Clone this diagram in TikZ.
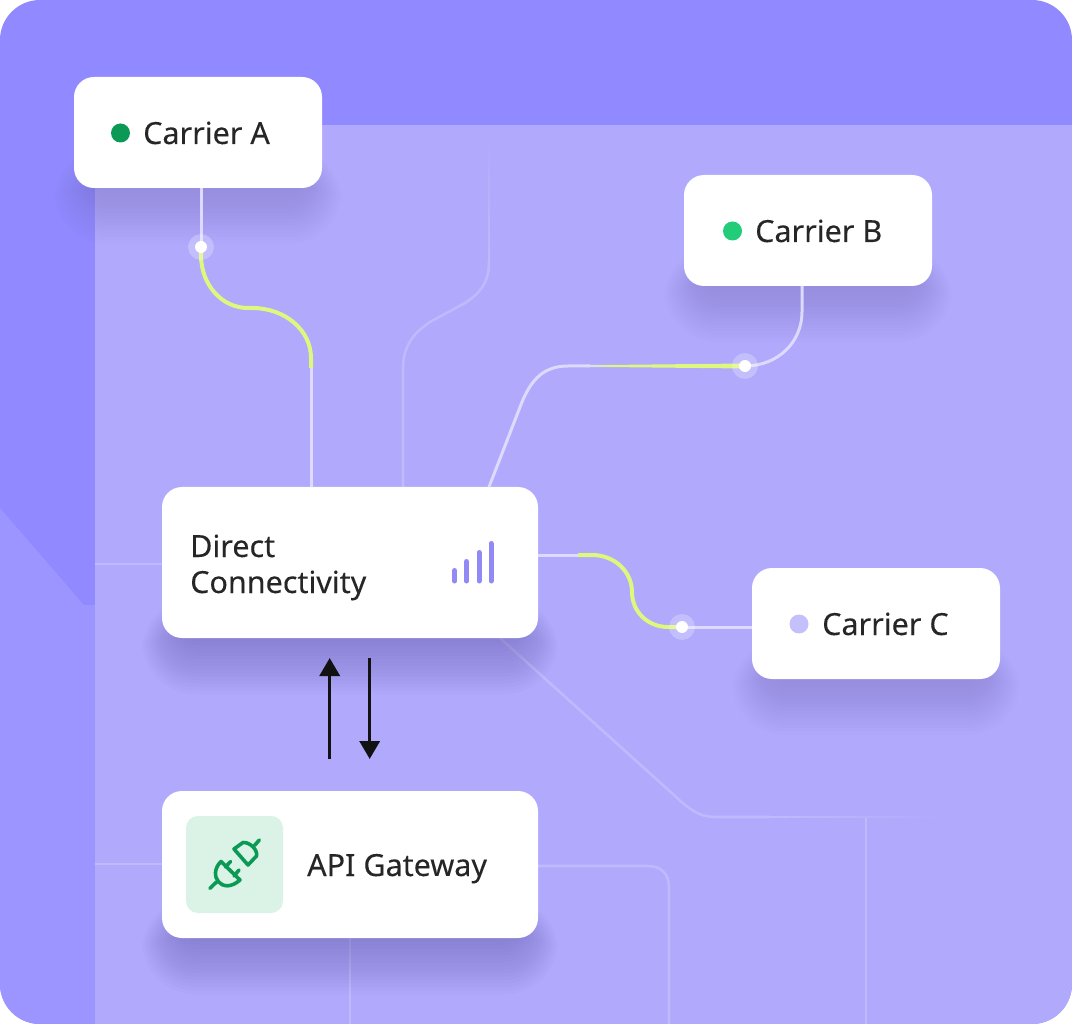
\documentclass[tikz,border=0pt]{standalone}
\usepackage{fontspec}
\setmainfont{Noto Sans}
\usetikzlibrary{arrows.meta,calc}
\definecolor{outerbg}{HTML}{9089FF}
\definecolor{lowerbg}{HTML}{9C95FF}
\definecolor{panelbg}{HTML}{B0A9FC}
\definecolor{wire}{HTML}{DDDAFD}
\definecolor{faint}{HTML}{BFBAFD}
\definecolor{lime}{HTML}{DDF87C}
\definecolor{ink}{HTML}{262626}
\definecolor{shadowc}{HTML}{4A3F8F}
\definecolor{greena}{HTML}{0B9A55}
\definecolor{greenb}{HTML}{22CC78}
\definecolor{lilac}{HTML}{C5C0FC}
\definecolor{mint}{HTML}{DAF3E6}
\definecolor{barc}{HTML}{9189F5}
\tikzset{
  card/.style={rectangle,fill=white,rounded corners=20pt,inner sep=0pt,minimum width=#1},
  wireline/.style={draw=wire,line width=3pt},
  faintline/.style={draw=faint,line width=2.6pt},
  limeline/.style={draw=lime,line width=4pt},
  label/.style={anchor=base west,inner sep=0pt,text=ink,font=\fontsize{30.5}{36}\selectfont\addfontfeature{FakeBold=0.12}},
  halo/.style={circle,fill=white,fill opacity=.25,minimum size=26pt,inner sep=0pt},
  hub/.style={circle,fill=white,minimum size=12pt,inner sep=0pt},
  pill/.style={circle,minimum size=19pt,inner sep=0pt},
  flowarrow/.style={draw=black!93,line width=3.5pt,-{Triangle[length=18pt,width=20pt]}},
  signalbar/.style={draw=barc,line width=5pt,line cap=round},
  plugline/.style={draw=greena,line width=3.6pt,line cap=round,line join=round},
}
\newcommand{\softshadow}[5]{% x1 y1 x2 y2 alpha
  \foreach \k in {0,...,16}{
    \fill[shadowc,opacity=#5,rounded corners={14pt+\k*2.4pt}]
      ({#1+22-\k*2.6},{#4-8-\k*2}) rectangle ({#3-22+\k*2.6},{#4+\k*3.5});
  }}
\begin{document}
\begin{tikzpicture}[x=1pt,y=-1pt]
\useasboundingbox (0,0) rectangle (1072,1024);
\clip[rounded corners=40pt] (0,0) rectangle (1072,1024);
% background
\fill[outerbg] (0,0) rectangle (1072,1024);
\fill[lowerbg] (0,508) -- (84,605) -- (95,605) -- (95,1024) -- (0,1024) -- cycle;
\fill[panelbg] (95,125) rectangle (1072,1024);
% faint background routes
\coordinate (f1) at (95,564);
\coordinate (f2) at (95,864);
\draw[faintline] (f1) -- (162,564);
\draw[faintline] (f2) -- (162,864);
\draw[faintline] (538,866) -- (648,866) .. controls (661,866) and (669,874) .. (669,887) -- (669,1024);
\draw[faintline] (350,938) -- (350,1024);
\draw[faintline] (866,818) -- (866,1024);
\draw[faintline] (500,638) -- (675,796) .. controls (690,810) and (700,817) .. (715,817) -- (770,817);
\foreach \i in {0,...,9}{
  \pgfmathsetmacro{\pc}{100-\i*10}
  \draw[line width=2.6pt,draw=faint!\pc!panelbg] ({770+\i*17},817) -- ({788+\i*17},817);
}
\draw[faintline] (403,487) -- (403,368) .. controls (403,345) and (415,332) .. (430,322) -- (465,303) .. controls (480,293) and (489,283) .. (489,262);
\foreach \i in {0,...,9}{
  \pgfmathsetmacro{\pc}{100-\i*10}
  \draw[line width=2.6pt,draw=faint!\pc!panelbg] (489,{262-\i*12}) -- (489,{250-\i*12-1});
}
% soft shadows
\softshadow{74}{77}{322}{188}{.011}
\softshadow{684}{175}{932}{286}{.011}
\softshadow{752}{568}{1000}{679}{.011}
\softshadow{162}{487}{538}{638}{.024}
\softshadow{162}{791}{538}{938}{.024}
% cards
\node[card=248pt,minimum height=111pt] (cA) at (198,132.5) {};
\node[card=248pt,minimum height=111pt] (cB) at (808,230.5) {};
\node[card=248pt,minimum height=111pt] (cC) at (876,623.5) {};
\node[card=376pt,minimum height=151pt] (dc) at (350,562.5) {};
\node[card=376pt,minimum height=147pt] (api) at (350,864.5) {};
% junction coordinates
\coordinate (hubApt) at (201,247);
\coordinate (hubBpt) at (745,366);
\coordinate (hubCpt) at (682,627);
\coordinate (dcA) at (311,487);
\coordinate (dcAbend) at (311,368);
\coordinate (dcB) at (489,487);
\coordinate (dcC) at (538,555);
\coordinate (dcCbend) at (578,555);
% connectors
\draw[wireline] (hubApt |- cA.south) -- (hubApt);
\draw[wireline] (dcAbend) -- (dcA);
\draw[limeline] (hubApt) -- (201,255) .. controls (201,285) and (222,308) .. (248,308) -- (252,308) .. controls (285,308) and (311,330) .. (311,358) -- (dcAbend);
\draw[wireline] (dcB) -- (522,402) .. controls (532,378) and (545,366) .. (568,366) -- (590,366);
\shade[left color=wire,right color=lime] (585,365) -- (615,364.9) -- (615,367.1) -- (585,367) -- cycle;
\fill[lime] (615,364.9) -- (745,363.5) -- (745,368.5) -- (615,367.1) -- cycle;
\draw[wireline] (hubBpt) .. controls (778,366) and (802,342) .. (802,312) -- (802,286);
\draw[wireline] (dcC) -- (dcCbend);
\draw[limeline] (dcCbend) -- (592,555) .. controls (615,555) and (632,572) .. (632,592) .. controls (632,612) and (648,627) .. (668,627) -- (hubCpt);
\draw[wireline] (hubCpt) -- (cC.west |- hubCpt);
% hubs
\node[halo] (hA0) at (hubApt) {};
\node[hub] (hA) at (hubApt) {};
\node[halo] (hB0) at (hubBpt) {};
\node[hub] (hB) at (hubBpt) {};
\node[halo] (hC0) at (hubCpt) {};
\node[hub] (hC) at (hubCpt) {};
% arrows
\coordinate (upS) at (329.7,759);
\coordinate (upE) at (329.7,658);
\coordinate (dnS) at (369.7,658);
\coordinate (dnE) at (369.7,759);
\draw[flowarrow] (upS) -- (upE);
\draw[flowarrow] (dnS) -- (dnE);
% card content
\node[pill,fill=greena] (dA) at (120.5,133) {};
\node[pill,fill=greenb] (dB) at (732.5,231) {};
\node[pill,fill=lilac] (dC) at (799,624) {};
\node[label] (tA) at (143,144) {Carrier A};
\node[label] (tB) at (755,242) {Carrier B};
\node[label] (tC) at (822,635) {Carrier C};
\node[label] (tD1) at (190,557) {Direct};
\node[label] (tD2) at (190,593) {Connectivity};
\node[label] (tG) at (307,876) {API Gateway};
% signal bars
\draw[signalbar] (454.5,570.5) -- (454.5,581);
\draw[signalbar] (466.5,561.5) -- (466.5,581);
\draw[signalbar] (479,552.5) -- (479,581);
\draw[signalbar] (491,543.5) -- (491,581);
% plug icon
\fill[mint,rounded corners=12pt] (186,816) rectangle (283,913);
\draw[plugline] (221,861.5) .. controls (207,875) and (222,896) .. (240,880) -- cycle;
\draw[plugline] (210,888.3) -- (216.5,882);
\draw[plugline] (225.5,867) -- (230.5,861.5);
\draw[plugline] (234,876) -- (239,870);
\draw[plugline] (234,849) -- (243,842.5) .. controls (250,842) and (258,850) .. (256.5,856) -- (248,865) -- cycle;
\draw[plugline] (254.5,845.5) -- (259.3,840);
\end{tikzpicture}
\end{document}
